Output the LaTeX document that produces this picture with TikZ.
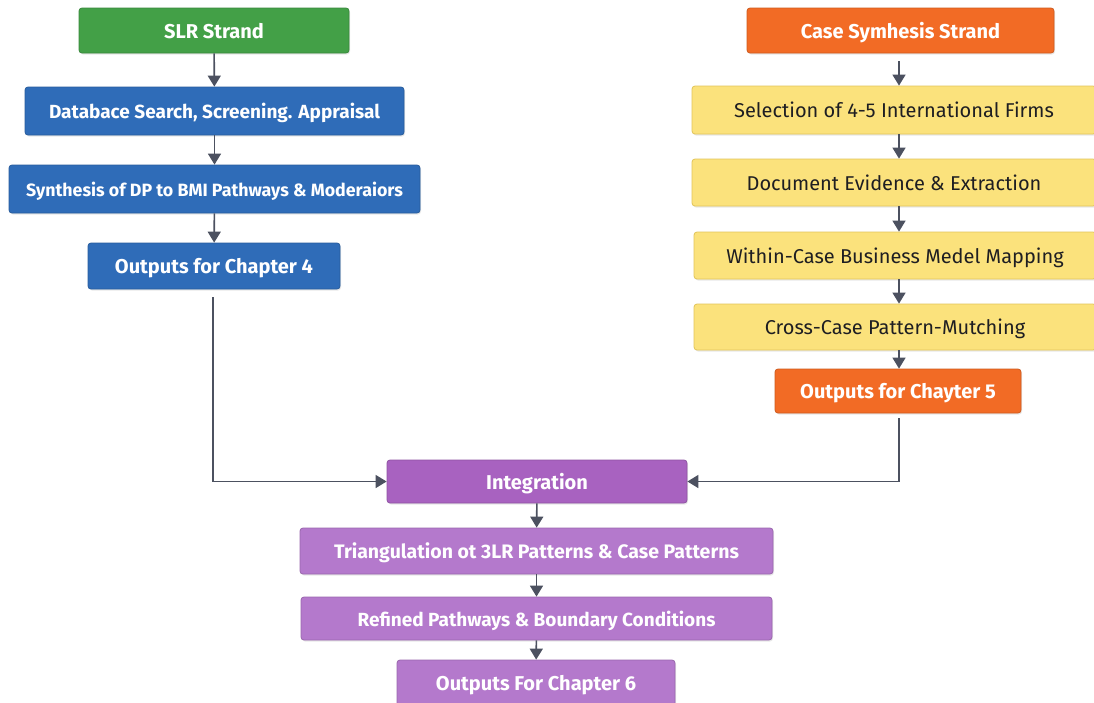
\documentclass[tikz,border=0pt]{standalone}
\usepackage{fontspec}
\setmainfont{Fira Sans}
\usetikzlibrary{arrows.meta,shadows}
\definecolor{cgreen}{HTML}{43A047}
\definecolor{cblue}{HTML}{2F6CB8}
\definecolor{corange}{HTML}{F26B25}
\definecolor{cyellow}{HTML}{FBE27C}
\definecolor{cyellowD}{HTML}{E2C55A}
\definecolor{cpurple}{HTML}{A862C0}
\definecolor{cpurpleL}{HTML}{B479CC}
\definecolor{carrow}{HTML}{4C5160}
\definecolor{ctext}{HTML}{1E1E22}
\begin{document}
\begin{tikzpicture}[x=1pt,y=-1pt,
  basebox/.style={rectangle, rounded corners=3pt, inner sep=0pt, align=center, line width=0.8pt,
    text depth=0pt, drop shadow={opacity=0.18, shadow xshift=1pt, shadow yshift=-1.5pt}},
  wbox/.style={basebox, draw=#1!85!black, fill=#1, text=white,
    font=\fontsize{20}{23}\selectfont\bfseries},
  ybox/.style={basebox, draw=cyellowD, fill=cyellow, text=ctext,
    font=\fontsize{20}{23}\selectfont},
  fsb/.style={font=\fontsize{#1}{#1}\selectfont\bfseries},
  arr/.style={draw=carrow, line width=1.6pt, -{Triangle[width=13pt,length=11pt]}}
]
\clip (0,0) rectangle (1094,702);
\fill[white] (0,0) rectangle (1094,702);

% SLR strand
\node[wbox=cgreen, minimum width=270pt, minimum height=45pt] (slr) at (214,30.5) {SLR Strand};
\node[wbox=cblue, fsb=19, minimum width=379pt, minimum height=48pt] (db) at (214.5,111) {Databace Search, Screening. Appraisal};
\node[wbox=cblue, fsb=17.8, minimum width=411pt, minimum height=48pt] (syn) at (214.5,189) {Synthesis of DP to BMI Pathways \& Moderaiors};
\node[wbox=cblue, minimum width=252pt, minimum height=46pt] (out4) at (214,266) {Outputs for Chapter 4};

% Case strand
\node[wbox=corange, minimum width=307pt, minimum height=45pt] (case) at (900.5,30.5) {Case Symhesis Strand};
\node[ybox, minimum width=404pt, minimum height=48pt] (sel) at (894,110) {Selection of 4-5 International Firms};
\node[ybox, minimum width=404pt, minimum height=47pt] (doc) at (894,182.5) {Document Evidence \& Extraction};
\node[ybox, minimum width=402pt, minimum height=47pt] (within) at (895,255.5) {Within-Case Business Medel Mapping};
\node[ybox, minimum width=402pt, minimum height=46pt] (cross) at (895,327) {Cross-Case Pattern-Mutching};
\node[wbox=corange, minimum width=246pt, minimum height=44pt] (out5) at (898,391) {Outputs for Chayter 5};

% Integration
\node[wbox=cpurple, minimum width=300pt, minimum height=43pt] (integ) at (537,481.5) {Integration};
\node[wbox=cpurpleL, fsb=19.5, minimum width=473pt, minimum height=46pt] (tri) at (536.5,551) {Triangulation ot 3LR Patterns \& Case Patterns};
\node[wbox=cpurpleL, fsb=19, minimum width=471pt, minimum height=43pt] (ref) at (536.5,618.5) {Refined Pathways \& Boundary Conditions};
\node[wbox=cpurpleL, minimum width=278pt, minimum height=46pt] (out6) at (536,683) {Outputs For Chapter 6};

% arrows
\draw[arr] (slr) -- (db);
\draw[arr] (db) -- (syn);
\draw[arr] (syn) -- (out4);
\draw[arr, shorten <=8pt] ([xshift=-1.5pt]case.south) -- ([xshift=5pt]sel.north);
\draw[arr] ([xshift=5pt]sel.south) -- ([xshift=5pt]doc.north);
\draw[arr] ([xshift=5pt]doc.south) -- ([xshift=4pt]within.north);
\draw[arr] ([xshift=4pt]within.south) -- ([xshift=4pt]cross.north);
\draw[arr] ([xshift=4pt]cross.south) -- ([xshift=1pt]out5.north);
\draw[arr, shorten <=8pt] ([xshift=-1pt]out4.south) |- (integ.west);
\draw[arr, shorten <=5pt] ([xshift=1pt]out5.south) |- (integ.east);
\draw[arr] (integ) -- (tri);
\draw[arr] (tri) -- (ref);
\draw[arr] (ref) -- (out6);
\end{tikzpicture}
\end{document}
